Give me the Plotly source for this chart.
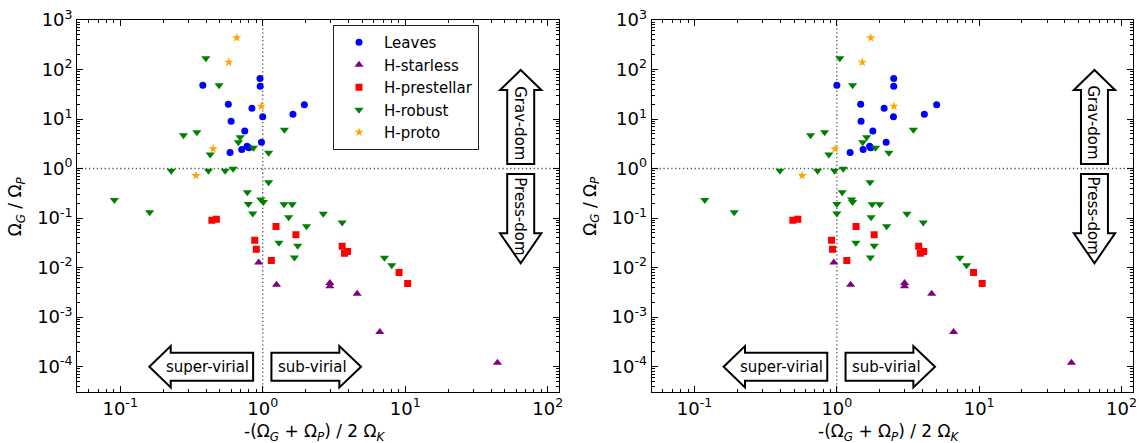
import plotly.graph_objects as go

# ---------------- data ----------------
leaves_y = [48.2, 65.8, 46, 19.9, 16.5, 11.1, 9.0, 5.7, 2.82, 2.62, 2.42, 3.4, 2.1, 12.5, 19.4]
leaves_x_left = [0.38, 0.957, 0.96, 0.574, 0.84, 1.0, 0.6, 0.748, 0.776, 0.8, 0.713, 0.98, 0.59, 1.63, 1.96]
leaves_x_right = [1.0, 2.51, 2.51, 1.47, 2.15, 2.5, 1.48, 1.79, 1.70, 1.73, 1.53, 2.22, 1.24, 4.12, 5.03]

starless_y = [0.0126, 0.00447, 0.0049, 0.00419, 0.00294, 0.0005, 0.00012]
starless_x_left = [0.937, 1.25, 2.96, 2.96, 4.6, 6.63, 44.4]
starless_x_right = [0.953, 1.25, 2.99, 2.99, 4.64, 6.61, 44.5]

prestellar_y = [0.0903, 0.0946, 0.0356, 0.0234, 0.0138, 0.0673, 0.0457, 0.0269, 0.0195, 0.021, 0.00792, 0.00475]
prestellar_x_left = [0.44, 0.473, 0.879, 0.902, 1.15, 1.24, 1.71, 3.61, 3.75, 3.94, 9.05, 10.4]
prestellar_x_right = [0.491, 0.532, 0.918, 0.933, 1.175, 1.365, 1.83, 3.76, 3.86, 4.08, 9.14, 10.5]

robust_y = [169, 48.2, 4.71, 5.4, 4.29, 3.4, 2.62, 1.92, 2.08, 0.90, 0.90, 0.90, 0.985, 0.53,
            0.333, 0.237, 0.232, 6.05, 0.131, 0.193, 0.123, 0.212, 0.0316, 0.068, 0.19, 0.19,
            0.104, 0.0274, 0.0159, 0.122, 0.081, 0.0157, 0.0111]
robust_x_left = [0.399, 0.494, 0.278, 0.345, 0.694, 0.675, 0.86, 0.428, 1.10, 0.228, 0.416, 0.545,
                 0.62, 1.10, 0.78, 0.97, 0.091, 1.42, 0.161, 0.793, 0.851, 1.01, 1.30, 2.03, 1.41,
                 1.61, 1.52, 1.76, 1.67, 2.66, 3.61, 7.15, 8.04]
robust_x_right = [1.05, 1.29, 0.654, 0.82, 1.62, 1.52, 1.87, 0.879, 2.32, 0.398, 0.732, 0.963,
                  1.11, 1.71, 1.09, 1.27, 0.118, 3.45, 0.19, 1.0, 1.0, 1.29, 1.36, 2.24, 1.77,
                  2.0, 1.74, 1.83, 1.72, 3.11, 4.05, 7.32, 8.16]

proto_y = [437, 140, 18.1, 2.5, 0.72]
proto_x_left = [0.657, 0.578, 0.977, 0.449, 0.34]
proto_x_right = [1.73, 1.51, 2.52, 0.97, 0.57]

x_tick_vals = [0.1, 1, 10, 100]
x_tick_text = ["10<sup>-1</sup>", "10<sup>0</sup>", "10<sup>1</sup>", "10<sup>2</sup>"]
y_tick_vals = [1e-4, 1e-3, 1e-2, 1e-1, 1, 10, 100, 1000]
y_tick_text = ["10<sup>-4</sup>", "10<sup>-3</sup>", "10<sup>-2</sup>", "10<sup>-1</sup>",
               "10<sup>0</sup>", "10<sup>1</sup>", "10<sup>2</sup>", "10<sup>3</sup>"]

x_title = "-(Ω<sub><i>G</i></sub> + Ω<sub><i>P</i></sub>) / 2 Ω<sub><i>K</i></sub>"
y_title = "Ω<sub><i>G</i></sub> / Ω<sub><i>P</i></sub>"

# ---------------- styling ----------------
FONT = "DejaVu Sans"
W, H = 1139, 443
XDOM = [[77.3 / W, 559.0 / W], [651.7 / W, 1132.7 / W]]
YDOM = [1 - 392.3 / H, 1 - 20.0 / H]

series = [
    ("Leaves", leaves_x_left, leaves_x_right, leaves_y, "circle", "#0000ff", 7),
    ("H-starless", starless_x_left, starless_x_right, starless_y, "triangle-up", "#800080", 8),
    ("H-prestellar", prestellar_x_left, prestellar_x_right, prestellar_y, "square", "#ff0000", 7),
    ("H-robust", robust_x_left, robust_x_right, robust_y, "triangle-down", "#008000", 8),
    ("H-proto", proto_x_left, proto_x_right, proto_y, "star", "#ffa500", 7),
]

fig = go.Figure()
for name, xl, xr, y, sym, col, sz in series:
    for i, xs in enumerate([xl, xr]):
        fig.add_trace(go.Scatter(
            x=xs, y=y, mode="markers", name=name,
            xaxis="x" if i == 0 else "x2", yaxis="y" if i == 0 else "y2",
            marker=dict(symbol=sym, color=col, size=sz, line=dict(width=0)),
            showlegend=(i == 0), legendgroup=name,
        ))

minor_x = [k * 10 ** n for n in range(-2, 3) for k in range(2, 10)]
minor_y = [k * 10 ** n for n in range(-5, 3) for k in range(2, 10)]

def xaxis_cfg(dom, anchor):
    return dict(type="log", domain=dom, anchor=anchor, range=[-1.301, 2.079],
                automargin=False,
                tickmode="array", tickvals=x_tick_vals, ticktext=x_tick_text,
                ticks="inside", ticklen=6, tickwidth=1, tickcolor="black",
                mirror="allticks", showline=True, linecolor="black", linewidth=1.2,
                showgrid=False, zeroline=False,
                minor=dict(tickmode="array", tickvals=minor_x, ticks="inside", ticklen=3,
                           tickwidth=1, tickcolor="black", showgrid=False),
                tickfont=dict(family=FONT, size=18, color="black"))

def yaxis_cfg(anchor):
    return dict(type="log", domain=YDOM, anchor=anchor, range=[-4.52, 3.0],
                automargin=False,
                tickmode="array", tickvals=y_tick_vals, ticktext=y_tick_text,
                ticks="inside", ticklen=6, tickwidth=1, tickcolor="black",
                mirror="allticks", showline=True, linecolor="black", linewidth=1.2,
                showgrid=False, zeroline=False,
                minor=dict(tickmode="array", tickvals=minor_y, ticks="inside", ticklen=3,
                           tickwidth=1, tickcolor="black", showgrid=False),
                tickfont=dict(family=FONT, size=18, color="black"))

fig.update_layout(
    template="none",
    width=W, height=H, margin=dict(l=0, r=0, t=0, b=0, pad=0, autoexpand=False),
    paper_bgcolor="white", plot_bgcolor="white",
    font=dict(family=FONT, size=15, color="black"),
    xaxis=xaxis_cfg(XDOM[0], "y"), yaxis=yaxis_cfg("x"),
    xaxis2=xaxis_cfg(XDOM[1], "y2"), yaxis2=yaxis_cfg("x2"),
    legend=dict(x=333 / W, y=1 - 25 / H, xanchor="left", yanchor="top",
                bordercolor="#222222", borderwidth=1, bgcolor="white",
                itemwidth=40, entrywidth=95,
                font=dict(family=FONT, size=15, color="black"), tracegroupgap=0),
    hovermode=False,
)

# reference dotted lines at x=1 and y=1
DOT = dict(color="#555555", width=1.3, dash="1.3px,2.6px")
for xa, ya in [("x", "y"), ("x2", "y2")]:
    fig.add_shape(type="line", xref=xa, yref=ya + " domain", x0=1, x1=1, y0=0, y1=1,
                  line=DOT, layer="below")
    fig.add_shape(type="line", xref=xa + " domain", yref=ya, x0=0, x1=1, y0=1, y1=1,
                  line=DOT, layer="below")

# axis titles
for panel in (0, 1):
    d = XDOM[panel]
    fig.add_annotation(x=(d[0] + d[1]) / 2 - 3 / W, y=1 - 432 / H, xref="paper", yref="paper",
                       text=x_title, showarrow=False, xanchor="center", yanchor="middle",
                       font=dict(family=FONT, size=17, color="black"))
    fig.add_annotation(x=d[0] - 60 / W, y=1 - 206 / H, xref="paper", yref="paper",
                       text=y_title, showarrow=False, textangle=-90,
                       xanchor="center", yanchor="middle",
                       font=dict(family=FONT, size=17, color="black"))

# annotation arrows (panel fractions)
def P(panel, fx, fy):
    d = XDOM[panel]
    return d[0] + fx * (d[1] - d[0]), YDOM[0] + fy * (YDOM[1] - YDOM[0])

def path(panel, pts):
    s = ""
    for k, (fx, fy) in enumerate(pts):
        x, y = P(panel, fx, fy)
        s += ("M" if k == 0 else "L") + f"{x:.5f},{y:.5f} "
    return s + "Z"

cy, bh, hh = 0.0688, 14 / 372.3, 20.7 / 372.3
left_arrow = [(0.1495, cy), (0.194, cy + hh), (0.194, cy + bh), (0.365, cy + bh),
              (0.365, cy - bh), (0.194, cy - bh), (0.194, cy - hh)]
right_arrow = [(0.589, cy), (0.544, cy - hh), (0.544, cy - bh), (0.403, cy - bh),
               (0.403, cy + bh), (0.544, cy + bh), (0.544, cy + hh)]
cx, bw, hw = 0.9205, 13.5 / 481.7, 20.65 / 481.7
up_arrow = [(cx, 0.8657), (cx + hw, 0.812), (cx + bw, 0.812), (cx + bw, 0.6133),
            (cx - bw, 0.6133), (cx - bw, 0.812), (cx - hw, 0.812)]
down_arrow = [(cx, 0.3465), (cx + hw, 0.4271), (cx + bw, 0.4271), (cx + bw, 0.5864),
              (cx - bw, 0.5864), (cx - bw, 0.4271), (cx - hw, 0.4271)]

tx = cx - 1.0 / 481.7
labels = [("super-virial", 0.2707, cy, 0), ("sub-virial", 0.4879, cy, 0),
          ("Grav-dom", tx, 0.7235, 90), ("Press-dom", tx, 0.4735, 90)]

for panel in (0, 1):
    for pts in (left_arrow, right_arrow, up_arrow, down_arrow):
        fig.add_shape(type="path", xref="paper", yref="paper", path=path(panel, pts),
                      line=dict(color="black", width=2), fillcolor="white", layer="above")
    for txt, fx, fy, ang in labels:
        x, y = P(panel, fx, fy)
        fig.add_annotation(x=x, y=y, xref="paper", yref="paper", text=txt, showarrow=False,
                           textangle=ang, xanchor="center", yanchor="middle",
                           font=dict(family=FONT, size=15, color="black"))

fig.write_html("out.html", config={"displayModeBar": False},
               post_script="document.body.style.margin='0px';")
